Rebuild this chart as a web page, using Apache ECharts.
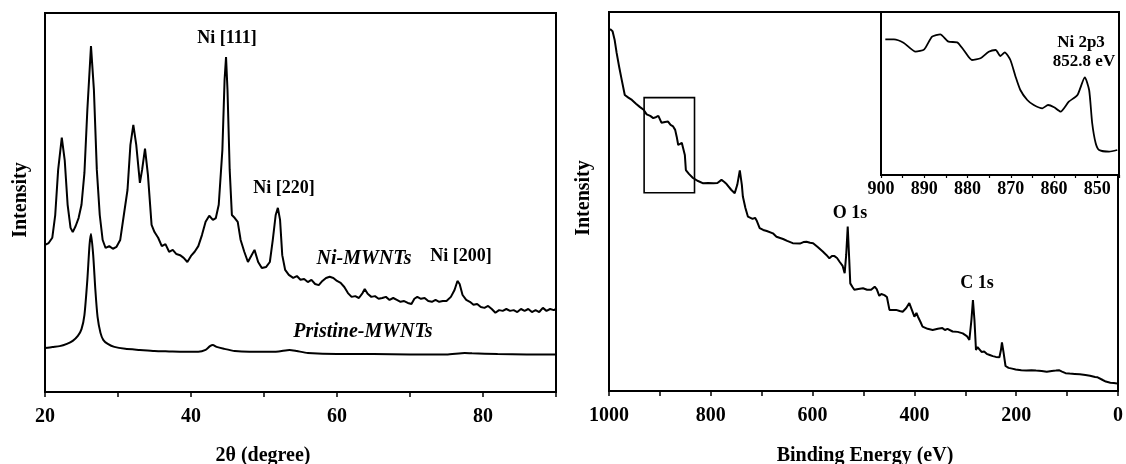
<!DOCTYPE html>
<html>
<head>
<meta charset="utf-8">
<script src="https://cdn.jsdelivr.net/npm/echarts@6/dist/echarts.min.js"></script>
<style>html,body{margin:0;padding:0;background:#fff}#c{width:1126px;height:464px}</style>
</head>
<body>
<div id="c"></div>
<script>
// ---- Left panel: XRD (2theta, intensity a.u.) ----
var niX = [20.0,20.5,21.0,21.4,21.8,22.3,22.7,23.1,23.5,23.8,24.2,24.6,25.0,25.4,25.8,26.3,26.7,27.1,27.5,27.9,28.3,28.8,29.3,29.8,30.3,30.8,31.3,31.7,32.1,32.5,33.0,33.3,33.7,34.1,34.6,35.0,35.5,36.0,36.5,37.0,37.5,38.0,38.5,39.0,39.5,40.0,40.5,41.0,41.5,42.0,42.5,43.0,43.4,43.8,44.3,44.6,44.8,45.0,45.3,45.6,46.0,46.4,46.8,47.3,47.8,48.3,48.7,49.2,49.7,50.3,50.8,51.2,51.6,51.9,52.2,52.5,52.9,53.4,54.0,54.5,55.0,55.5,56.0,56.5,57.0,57.5,58.0,58.5,59.0,59.5,60.0,60.5,61.0,61.5,62.0,62.5,63.0,63.5,63.8,64.2,64.7,65.2,65.7,66.2,66.7,67.2,67.7,68.2,68.7,69.2,69.7,70.2,70.6,71.0,71.5,72.0,72.5,73.0,73.5,74.0,74.5,75.0,75.6,76.1,76.5,76.8,77.2,77.7,78.2,78.7,79.2,79.7,80.2,80.7,81.2,81.7,82.2,82.7,83.2,83.7,84.2,84.7,85.2,85.7,86.2,86.7,87.2,87.7,88.2,88.7,89.2,89.7,90.0];
var niY = [388,393,407,467,586,671,612,494,433,422,438,459,494,578,744,913,797,586,467,401,380,385,378,383,401,467,533,652,705,652,552,586,642,573,441,422,407,385,390,370,375,364,361,354,343,359,370,385,414,449,465,454,459,494,639,824,884,797,586,467,459,449,401,370,343,361,375,343,327,330,343,401,467,486,454,361,322,309,301,306,296,298,290,296,285,282,293,301,304,301,293,288,277,261,251,253,248,261,272,259,251,253,246,248,251,243,248,243,238,240,235,232,246,251,246,248,240,238,243,238,240,240,251,269,293,285,256,243,238,230,232,224,222,227,219,209,216,214,219,214,216,211,219,214,219,211,216,211,222,214,219,216,219];
var priX = [20.0,21.0,22.0,23.0,23.8,24.5,25.0,25.4,25.8,26.1,26.3,26.6,26.9,27.2,27.6,28.0,28.6,29.5,31,33,35,37,39,41,42,42.6,43.0,43.5,44.5,46,48,50,52,53.5,54.5,56,60,65,70,75,77.5,78.5,82,86,90];
var priY = [116,119,121,127,135,148,166,203,296,388,417,362,269,198,156,137,127,119,114,111,108,107,106,106,111,121,124,119,114,108,106,106,107,111,108,103,100,100,99,99,103,102,100,99,99];

// ---- Right panel: XPS survey (binding energy eV, intensity a.u.) ----
var xpsX = [998,993,989,985,980,975,969,962,955,947,939,932,926,919,913,907,903,897,890,884,879,874,870,867,864,861,857,854,851,849,843,835,825,815,805,795,787,779,774,769,760,753,748,743,739,737,732,727,718,713,710,704,697,690,678,671,658,650,639,625,618,612,605,599,590,580,573,567,562,557,552,547,541,537,534,531,528,526,522,518,510,501,493,485,478,474,469,465,459,454,449,443,436,429,423,416,410,405,400,396,393,388,384,374,364,354,345,340,335,325,315,305,297,292,288,285,284,282,279,276,273,268,263,258,252,246,240,233,230,228,225,221,215,208,201,190,180,170,161,150,140,130,122,116,110,103,95,85,75,64,55,45,40,37,30,24,15,8,2];
var xpsY = [955,949,927,892,855,821,781,774,768,758,749,742,730,726,720,723,726,708,710,711,702,698,689,671,649,645,655,658,623,583,573,562,554,548,549,548,549,557,552,546,531,522,544,582,544,513,483,460,454,457,450,430,425,422,416,407,401,396,390,389,393,394,391,390,380,368,359,350,356,356,351,341,330,311,359,434,346,284,275,267,269,271,267,267,275,269,251,256,253,248,214,214,214,211,209,219,232,214,196,206,196,182,170,164,161,164,166,161,164,157,156,152,145,135,187,240,242,187,108,116,113,103,104,98,95,92,90,89,108,128,103,66,61,59,57,55,54,55,54,53,51,53,54,55,51,47,46,45,44,42,40,37,36,40,29,25,22,21,20];
var boxX = [931, 832];
var boxY = [523, 774];

// ---- Inset: Ni 2p region ----
var insX = [899,897,894.8,892,890,888.2,886.3,884.4,882.4,880.9,879,877,875.1,873.5,872.4,871.4,870.1,868.9,867.8,866.2,864.7,862.7,861.4,860,858.5,856.6,854.6,852.9,851.9,851.2,850.4,849.6,847.3,845.4];
var insY = [135.7,135.7,132.3,123.3,125.7,138.3,140.7,133.3,132.7,125,115,116.7,123.3,125,119,122.7,115,98.3,85,75,70,66.7,70,67.7,63.3,73.3,80,97.7,85,52,32,25,23.3,25];

var xrdTicks = [20, 40, 60, 80];
var xpsTicks = [1000, 800, 600, 400, 200, 0];
var insTicks = [900, 890, 880, 870, 860, 850];

function pairs(xs, ys) { return xs.map(function (x, i) { return [x, ys[i]]; }); }

var FF = '"Liberation Serif", "Times New Roman", serif';
var lab = function (fs, show) {
  return { show: true, color: '#000', fontFamily: FF, fontWeight: 'bold', fontSize: fs,
           formatter: function (v) { return show.indexOf(v) >= 0 ? String(v) : ''; } };
};
var axLine = { show: true, onZero: false, lineStyle: { color: '#000', width: 2 } };
function txt(x, y, text, font, rot) {
  var o = { type: 'text', x: x, y: y, style: { text: text, font: font, fill: '#000', textAlign: 'center', textVerticalAlign: 'middle', align: 'center', verticalAlign: 'middle' } };
  if (rot) o.rotation = rot;
  return o;
}

var chart = echarts.init(document.getElementById('c'), null, { renderer: 'canvas' });
var option = {
  animation: false,
  backgroundColor: '#fff',
  grid: [
    { left: 45, top: 13, width: 511, height: 379, show: true, borderColor: '#000', borderWidth: 2, backgroundColor: 'transparent' },
    { left: 609, top: 12, width: 510, height: 379, show: true, borderColor: '#000', borderWidth: 2, backgroundColor: 'transparent' },
    { left: 881, top: 12, width: 238, height: 163, show: true, borderColor: '#000', borderWidth: 2, backgroundColor: '#fff' }
  ],
  xAxis: [
    { gridIndex: 0, type: 'value', min: 20, max: 90, interval: 10, axisLine: axLine,
      axisTick: { show: true, length: 5, lineStyle: { color: '#000', width: 1.5 } },
      axisLabel: Object.assign(lab(20, xrdTicks), { margin: 15 }), splitLine: { show: false } },
    { gridIndex: 1, type: 'value', min: 0, max: 1000, interval: 100, inverse: true, axisLine: axLine,
      axisTick: { show: true, length: 5, lineStyle: { color: '#000', width: 1.5 } },
      axisLabel: Object.assign(lab(20, xpsTicks), { margin: 15 }), splitLine: { show: false } },
    { gridIndex: 2, type: 'value', min: 845, max: 900, interval: 5, inverse: true, axisLine: axLine,
      axisTick: { show: true, length: 3, lineStyle: { color: '#000', width: 1.2 } },
      axisLabel: Object.assign(lab(18, insTicks), { margin: 5 }), splitLine: { show: false } }
  ],
  yAxis: [
    { gridIndex: 0, type: 'value', min: 0, max: 1000, axisLine: axLine, axisTick: { show: false }, axisLabel: { show: false }, splitLine: { show: false } },
    { gridIndex: 1, type: 'value', min: 0, max: 1000, axisLine: axLine, axisTick: { show: false }, axisLabel: { show: false }, splitLine: { show: false } },
    { gridIndex: 2, type: 'value', min: 0, max: 163, axisLine: axLine, axisTick: { show: false }, axisLabel: { show: false }, splitLine: { show: false } }
  ],
  series: [
    { name: 'Ni-MWNTs', type: 'line', xAxisIndex: 0, yAxisIndex: 0, data: pairs(niX, niY), showSymbol: false,
      lineStyle: { color: '#000', width: 2 } },
    { name: 'Pristine-MWNTs', type: 'line', xAxisIndex: 0, yAxisIndex: 0, data: pairs(priX, priY), showSymbol: false, smooth: 0.2,
      lineStyle: { color: '#000', width: 2 } },
    { name: 'XPS', type: 'line', xAxisIndex: 1, yAxisIndex: 1, data: pairs(xpsX, xpsY), showSymbol: false,
      lineStyle: { color: '#000', width: 2 },
      markArea: { silent: true, itemStyle: { color: 'rgba(0,0,0,0)', borderColor: '#000', borderWidth: 1.6 },
        data: [[{ coord: [boxX[0], boxY[1]] }, { coord: [boxX[1], boxY[0]] }]] } },
    { name: 'Ni 2p', type: 'line', xAxisIndex: 2, yAxisIndex: 2, data: pairs(insX, insY), showSymbol: false, smooth: 0.2,
      lineStyle: { color: '#000', width: 1.8 } }
  ],
  graphic: [
    txt(21, 200, 'Intensity', 'bold 20px ' + FF, Math.PI / 2),
    txt(263, 456, '2\u03b8 (degree)', 'bold 20px ' + FF),
    txt(584, 198, 'Intensity', 'bold 20px ' + FF, Math.PI / 2),
    txt(865, 456, 'Binding Energy (eV)', 'bold 20px ' + FF),
    txt(227, 38, 'Ni [111]', 'bold 18px ' + FF),
    txt(284, 188, 'Ni [220]', 'bold 18px ' + FF),
    txt(461, 256, 'Ni [200]', 'bold 18px ' + FF),
    txt(364, 259, 'Ni-MWNTs', 'italic bold 20px ' + FF),
    txt(363, 332, 'Pristine-MWNTs', 'italic bold 20px ' + FF),
    txt(850, 213, 'O 1s', 'bold 18px ' + FF),
    txt(977, 283, 'C 1s', 'bold 18px ' + FF),
    txt(1081, 43, 'Ni 2p3', 'bold 17px ' + FF),
    txt(1084, 62, '852.8 eV', 'bold 17px ' + FF)
  ]
};
chart.setOption(option);
</script>
</body>
</html>
